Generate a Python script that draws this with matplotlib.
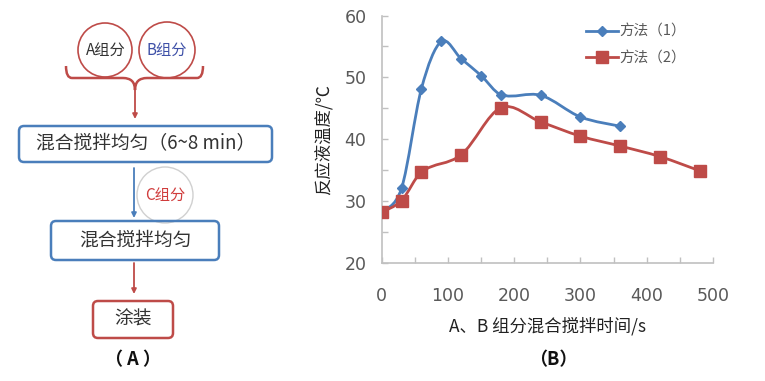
import numpy as np
import matplotlib
matplotlib.use("Agg")
import matplotlib.pyplot as plt
from matplotlib.path import Path
from matplotlib.patches import PathPatch, FancyBboxPatch, Circle
from matplotlib.lines import Line2D

plt.rcParams['font.family'] = ['Noto Sans CJK SC', 'DejaVu Sans']

# data for panel (B)
time_1 = [0, 30, 60, 90, 120, 150, 180, 240, 300, 360]
temp_1 = [28.2, 32.1, 48.2, 55.8, 53.0, 50.3, 47.2, 47.1, 43.6, 42.1]
time_2 = [0, 30, 60, 120, 180, 240, 300, 360, 420, 480]
temp_2 = [28.2, 30.1, 34.7, 37.5, 45.1, 42.8, 40.5, 38.9, 37.2, 34.9]
series_names = ['方法（1）', '方法（2）']

# flowchart texts for panel (A)
step_texts = ['混合搅拌均匀（6~8 min）', '混合搅拌均匀', '涂装']

BLUE = '#4a7ebb'
RED = '#be4b48'
GRAY = '#595959'


def smooth_path(xs, ys, t=1 / 6):
    # Catmull-Rom style bezier, like excel smoothed lines
    # handles scaled by neighbour spacing so uneven x steps don't bulge
    pts = np.column_stack([xs, ys]).astype(float)
    verts = [pts[0]]
    codes = [Path.MOVETO]
    n = len(pts)
    for i in range(n - 1):
        p0 = pts[i - 1] if i > 0 else pts[i]
        p1 = pts[i]
        p2 = pts[i + 1]
        p3 = pts[i + 2] if i + 2 < n else pts[i + 1]
        d = p2[0] - p1[0]
        c1 = p1 + (p2 - p0) * t * (2 * d / max(p2[0] - p0[0], 1e-9)) if i > 0 else p1 + (p2 - p1) * t
        c2 = p2 - (p3 - p1) * t * (2 * d / max(p3[0] - p1[0], 1e-9)) if i + 2 < n else p2 - (p2 - p1) * t
        verts += [c1, c2, p2]
        codes += [Path.CURVE4] * 3
    return Path(verts, codes)


fig = plt.figure(figsize=(7.65, 3.81), dpi=100)

# ---- panel (A): flowchart in pixel coords ----
fa = fig.add_axes([0, 0, 1, 1])
fa.set_xlim(0, 765)
fa.set_ylim(381, 0)
fa.axis('off')

fa.add_patch(Circle((105, 50), 27, fill=False, ec=RED, lw=1.2))
fa.add_patch(Circle((167, 50), 28, fill=False, ec=RED, lw=1.2))
fa.text(106, 50, 'A组分', ha='center', va='center', fontsize=11, color='#333333')
fa.text(167, 50, 'B组分', ha='center', va='center', fontsize=11, color='#3f51a8')

# brace
brace = Path([(66, 66), (66, 78), (72, 78), (76, 78), (123, 78), (135, 78), (135, 90),
              (135, 78), (147, 78), (193, 78), (197, 78), (203, 78), (203, 66)],
             [Path.MOVETO, Path.CURVE3, Path.CURVE3, Path.LINETO, Path.LINETO,
              Path.CURVE3, Path.CURVE3, Path.CURVE3, Path.CURVE3, Path.LINETO,
              Path.LINETO, Path.CURVE3, Path.CURVE3])
fa.add_patch(PathPatch(brace, fill=False, ec=RED, lw=1.8))


def arrow(x, y0, y1, color):
    fa.annotate('', xy=(x, y1), xytext=(x, y0),
                arrowprops=dict(arrowstyle='-|>', color=color, lw=1.3,
                                mutation_scale=7, shrinkA=0, shrinkB=0))


arrow(135, 90, 119, RED)


def box(x0, y0, x1, y1, color, text):
    fa.add_patch(FancyBboxPatch((x0, y0), x1 - x0, y1 - y0,
                                boxstyle='round,pad=0,rounding_size=5',
                                fill=False, ec=color, lw=1.8))
    fa.text((x0 + x1) / 2, (y0 + y1) / 2, text, ha='center', va='center',
            fontsize=13.5, color='#333333')


box(19, 126, 272, 162, BLUE, step_texts[0])
arrow(134, 168, 218, BLUE)
fa.add_patch(Circle((165, 195), 28, fill=False, ec='#d0d0d0', lw=1.0))
fa.text(165, 195, 'C组分', ha='center', va='center', fontsize=11, color='#d03c3c')
box(51, 221, 219, 260, BLUE, step_texts[1])
arrow(134, 263, 294, RED)
box(93, 301, 173, 338, RED, step_texts[2])
fa.text(133, 360, '（ A ）', ha='center', va='center', fontsize=13,
        fontweight='bold', color='#111111')
fa.text(553, 360, '（B）', ha='center', va='center', fontsize=13,
        fontweight='bold', color='#111111')

# ---- panel (B): line chart ----
ax = fig.add_axes([381.7 / 765, 1 - 263 / 381, (713 - 381.7) / 765, (263 - 15.5) / 381])
ax.set_xlim(0, 500)
ax.set_ylim(20, 60)
ax.patch.set_alpha(0)

ax.add_patch(PathPatch(smooth_path(time_1, temp_1), fill=False, ec=BLUE, lw=2.0,
                       capstyle='round', joinstyle='round', zorder=3))
ax.plot(time_1, temp_1, ls='none', marker='D', ms=5.5, color=BLUE, zorder=4)
ax.add_patch(PathPatch(smooth_path(time_2, temp_2), fill=False, ec=RED, lw=2.0,
                       capstyle='round', joinstyle='round', zorder=3))
ax.plot(time_2, temp_2, ls='none', marker='s', ms=9, color=RED, zorder=5)

for s in ['top', 'right']:
    ax.spines[s].set_visible(False)
for s in ['left', 'bottom']:
    ax.spines[s].set_color('#c0c0c0')
    ax.spines[s].set_linewidth(1.2)

ax.set_xticks(np.arange(0, 501, 100))
ax.set_xticks(np.arange(0, 501, 50), minor=True)
ax.set_yticks(np.arange(20, 61, 10))
ax.set_yticks(np.arange(20, 61, 5), minor=True)
ax.tick_params(which='both', direction='in', color='#c0c0c0', width=1.0, length=4)
ax.tick_params(axis='x', which='major', pad=17, labelsize=12.5, labelcolor=GRAY)
ax.tick_params(axis='y', which='major', pad=11, labelsize=12.5, labelcolor=GRAY)
for lab in ax.get_xticklabels() + ax.get_yticklabels():
    lab.set_family('DejaVu Sans')

ax.set_xlabel('A、B 组分混合搅拌时间/s', fontsize=12.5, color='#222222', labelpad=9)
ax.set_ylabel('反应液温度/℃', fontsize=12.5, color='#222222', labelpad=8)

handles = [Line2D([], [], color=BLUE, lw=2.0, marker='D', ms=5.5),
           Line2D([], [], color=RED, lw=2.0, marker='s', ms=9)]
ax.legend(handles, series_names, loc='upper left', bbox_to_anchor=(586 / 765, 1 - 25 / 381),
          bbox_transform=fig.transFigure, frameon=False, fontsize=10.5,
          handlelength=2.2, handletextpad=0.1, borderpad=0, borderaxespad=0,
          labelspacing=0.85, labelcolor=GRAY)

fig.savefig('out.png', dpi=100)
